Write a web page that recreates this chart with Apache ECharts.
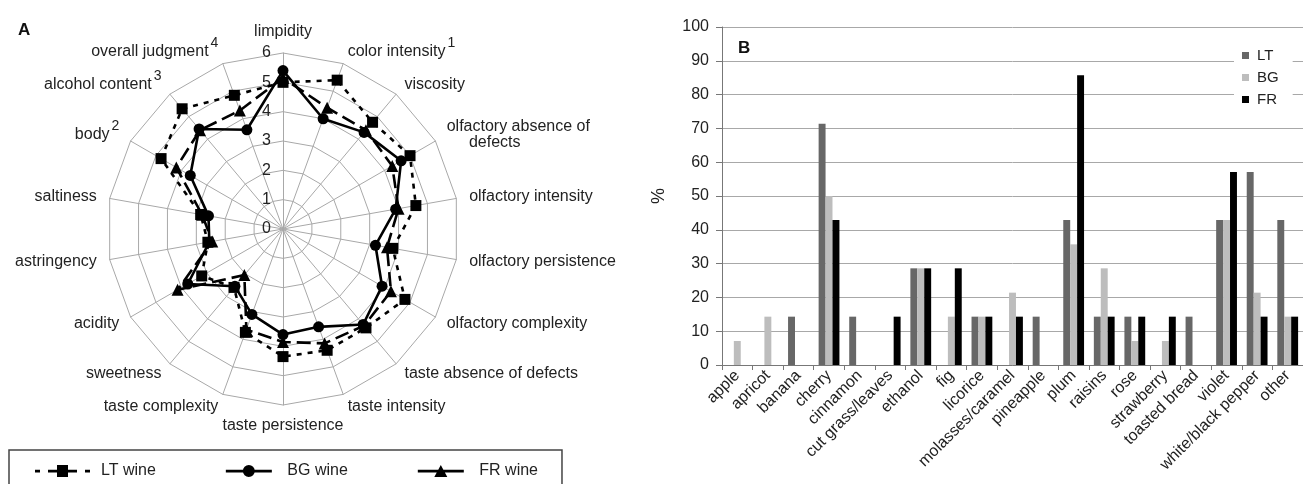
<!DOCTYPE html>
<html>
<head>
<meta charset="utf-8">
<script src="https://cdn.jsdelivr.net/npm/echarts@6/dist/echarts.min.js"></script>
<style>
  html, body { margin: 0; padding: 0; background: #fff; }
  #chart { width: 1303px; height: 484px; }
</style>
</head>
<body>
<div id="chart"></div>
<script>
// panel A: sensory profile
const attributes = ['limpidity', 'color intensity', 'viscosity', 'olfactory absence of defects',
  'olfactory intensity', 'olfactory persistence', 'olfactory complexity', 'taste absence of defects',
  'taste intensity', 'taste persistence', 'taste complexity', 'sweetness', 'acidity', 'astringency',
  'saltiness', 'body', 'alcohol content', 'overall judgment'];
const footnotes = { 'color intensity': '1', 'body': '2', 'alcohol content': '3', 'overall judgment': '4' };
const ltScores = [5.0, 5.4, 4.75, 5.0, 4.6, 3.8, 4.8, 4.4, 4.4, 4.35, 3.75, 2.6, 3.2, 2.6, 2.85, 4.8, 5.35, 4.85];
const bgScores = [5.4, 4.0, 4.3, 4.65, 3.9, 3.2, 3.9, 4.25, 3.55, 3.6, 3.1, 2.55, 3.75, 2.55, 2.58, 3.65, 4.45, 3.6];
const frScores = [5.15, 4.4, 4.4, 4.3, 4.0, 3.6, 4.25, 4.3, 4.15, 3.85, 3.65, 2.05, 4.15, 2.45, 2.8, 4.2, 4.4, 4.3];
const scoreTicks = [0, 6];

// panel B: aroma descriptors (% of judges)
const descriptors = ['apple', 'apricot', 'banana', 'cherry', 'cinnamon', 'cut grass/leaves', 'ethanol', 'fig',
  'licorice', 'molasses/caramel', 'pineapple', 'plum', 'raisins', 'rose', 'strawberry', 'toasted bread',
  'violet', 'white/black pepper', 'other'];
const ltPct = [0, 0, 14.3, 71.4, 14.3, 0, 28.6, 0, 14.3, 0, 14.3, 42.9, 14.3, 14.3, 0, 14.3, 42.9, 57.1, 42.9];
const bgPct = [7.1, 14.3, 0, 50, 0, 0, 28.6, 14.3, 14.3, 21.4, 0, 35.7, 28.6, 7.1, 7.1, 0, 42.9, 21.4, 14.3];
const frPct = [0, 0, 0, 42.9, 0, 14.3, 28.6, 28.6, 14.3, 14.3, 0, 85.7, 14.3, 14.3, 14.3, 0, 57.1, 14.3, 14.3];

const FONT = 'Liberation Sans';
const gridGray = '#a8a8a8';

// echarts places radar axes counter-clockwise, the figure goes clockwise
const order = [0].concat(attributes.map((a, i) => i).slice(1).reverse());
const reorder = arr => order.map(i => arr[i]);

const indicator = reorder(attributes).map((name, i) => {
  const ind = { name: name, min: scoreTicks[0], max: scoreTicks[1] };
  if (i === 0) {
    ind.axisLabel = { show: true };
  }
  return ind;
});

// legend icons (line + marker)
const iconLT = 'path://M0,4.8h5v2.6h-5z M13,4.8h9v2.6h-9z M22,0h11v12h-11z M33,4.8h9v2.6h-9z M50,4.8h5v2.6h-5z';
const iconBG = 'path://M0,4.8h46v2.6h-46z M29,6a6,6 0 1,1 -12,0a6,6 0 1,1 12,0z';
const iconFR = 'path://M0,4.8h46v2.6h-46z M23,0L29.5,12L16.5,12z';

const chart = echarts.init(document.getElementById('chart'));
const option = {
  animation: false,
  textStyle: { fontFamily: FONT },
  title: [
    { text: 'A', left: 13, top: 17, textStyle: { fontSize: 17, fontWeight: 'bold', color: '#111', fontFamily: FONT } },
    { text: 'B', left: 733, top: 35, textStyle: { fontSize: 17, fontWeight: 'bold', color: '#111', fontFamily: FONT } }
  ],
  legend: [
    {
      data: [
        { name: 'LT wine', icon: iconLT },
        { name: 'BG wine', icon: iconBG },
        { name: 'FR wine', icon: iconFR }
      ],
      left: 9,
      top: 450,
      orient: 'horizontal',
      itemWidth: 55,
      itemHeight: 12,
      itemGap: 70,
      padding: [13, 24, 30, 26],
      borderColor: '#444',
      borderWidth: 1.5,
      textStyle: { fontSize: 16, color: '#222', fontFamily: FONT, padding: [0, 0, 0, 6] },
      itemStyle: { color: '#000' }
    },
    {
      data: ['LT', 'BG', 'FR'],
      left: 1234,
      top: 42,
      orient: 'vertical',
      icon: 'rect',
      itemWidth: 7,
      itemHeight: 7,
      itemGap: 7,
      backgroundColor: '#fff',
      padding: [6, 14, 6, 8],
      textStyle: { fontSize: 15, color: '#222', fontFamily: FONT, padding: [0, 0, 0, 3] }
    }
  ],
  radar: {
    center: [283, 229],
    radius: 176,
    startAngle: 90,
    shape: 'polygon',
    splitNumber: 6,
    indicator: indicator,
    axisName: {
      color: '#222',
      fontSize: 16,
      fontFamily: FONT,
      formatter: name => {
        if (name === 'olfactory absence of defects') return 'olfactory absence of\n     defects';
        return footnotes[name] ? name + '{sup|' + footnotes[name] + '}' : name;
      },
      rich: {
        sup: { fontSize: 14, color: '#222', fontFamily: FONT, padding: [0, 0, 16, 2] }
      }
    },
    nameGap: 13,
    axisLine: { lineStyle: { color: gridGray, width: 1 } },
    splitLine: { lineStyle: { color: gridGray, width: 1 } },
    splitArea: { show: false },
    axisTick: { show: false },
    axisLabel: { show: false, color: '#222', fontSize: 16, fontFamily: FONT, margin: 12 }
  },
  grid: {
    left: 722,
    right: -10,
    top: 27,
    bottom: 119
  },
  xAxis: {
    type: 'category',
    data: descriptors,
    axisLine: { lineStyle: { color: '#777', width: 1 } },
    axisTick: { show: true, length: 5, lineStyle: { color: '#777' } },
    axisLabel: { rotate: 45, interval: 0, fontSize: 16, color: '#222', fontFamily: FONT, margin: 8 }
  },
  yAxis: {
    type: 'value',
    min: 0,
    max: 100,
    interval: 10,
    name: '%',
    nameLocation: 'middle',
    nameGap: 54,
    nameRotate: 90,
    nameTextStyle: { fontSize: 18, color: '#222', fontFamily: FONT },
    axisLine: { show: true, lineStyle: { color: '#777', width: 1 } },
    axisTick: { show: true, length: 6, lineStyle: { color: '#777' } },
    axisLabel: { fontSize: 16, color: '#222', fontFamily: FONT, margin: 13 },
    splitLine: { lineStyle: { color: gridGray, width: 1 } }
  },
  series: [
    {
      type: 'radar',
      symbolSize: 11,
      z: 3,
      data: [
        {
          name: 'LT wine',
          value: reorder(ltScores),
          symbol: 'rect',
          symbolSize: 11,
          lineStyle: { color: '#000', width: 2.6, type: [5, 6] },
          itemStyle: { color: '#000' }
        },
        {
          name: 'BG wine',
          value: reorder(bgScores),
          symbol: 'circle',
          symbolSize: 11,
          lineStyle: { color: '#000', width: 2.6, type: 'solid' },
          itemStyle: { color: '#000' }
        },
        {
          name: 'FR wine',
          value: reorder(frScores),
          symbol: 'triangle',
          symbolSize: 12,
          lineStyle: { color: '#000', width: 2.6, type: [14, 6] },
          itemStyle: { color: '#000' }
        }
      ]
    },
    {
      name: 'LT', type: 'bar', data: ltPct, barGap: '0%', barCategoryGap: '32%',
      itemStyle: { color: '#676767' }
    },
    {
      name: 'BG', type: 'bar', data: bgPct, barGap: '0%', barCategoryGap: '32%',
      itemStyle: { color: '#bdbdbd' }
    },
    {
      name: 'FR', type: 'bar', data: frPct, barGap: '0%', barCategoryGap: '32%',
      itemStyle: { color: '#000' }
    }
  ]
};
chart.setOption(option);
</script>
</body>
</html>
